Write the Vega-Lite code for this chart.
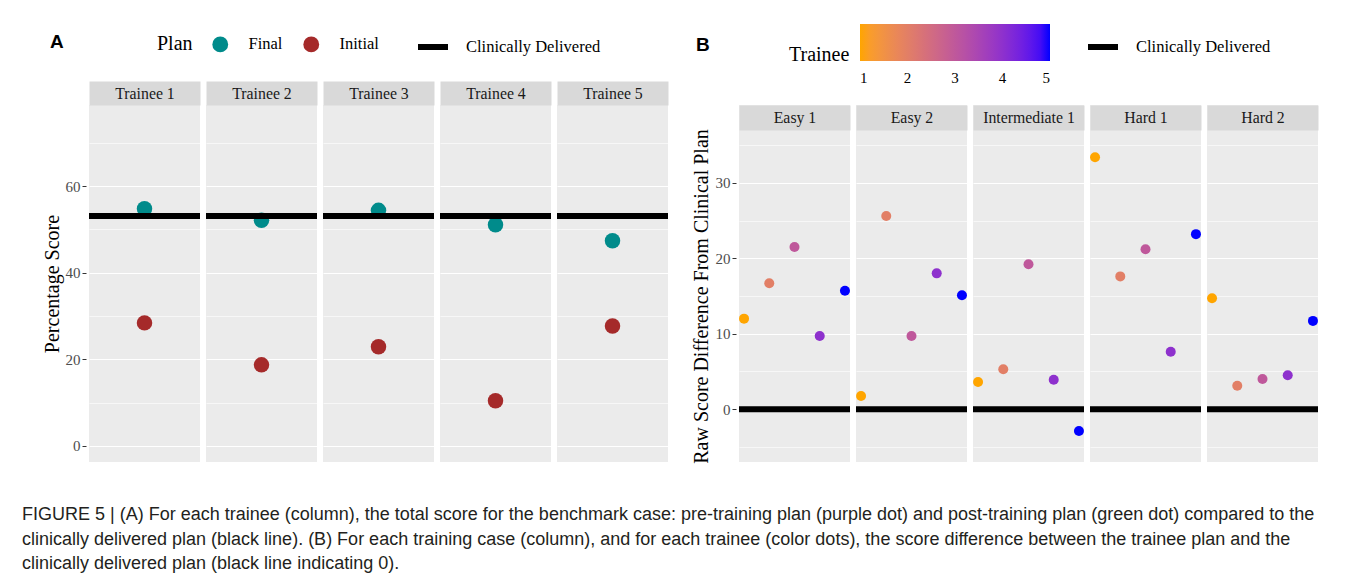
{
  "$schema": "https://vega.github.io/schema/vega-lite/v6.json",
  "background": "white",
  "padding": {"left": 22, "top": 24, "right": 10, "bottom": 5},
  "config": {
    "view": {"fill": "#EBEBEB", "stroke": null},
    "font": "Liberation Serif"
  },
  "datasets": {
    "planScores": [
      {"Trainee": "Trainee 1", "Plan": "Final", "Score": 54.8, "Clinical": 53.1},
      {"Trainee": "Trainee 1", "Plan": "Initial", "Score": 28.4, "Clinical": 53.1},
      {"Trainee": "Trainee 2", "Plan": "Final", "Score": 52.1, "Clinical": 53.1},
      {"Trainee": "Trainee 2", "Plan": "Initial", "Score": 18.7, "Clinical": 53.1},
      {"Trainee": "Trainee 3", "Plan": "Final", "Score": 54.4, "Clinical": 53.1},
      {"Trainee": "Trainee 3", "Plan": "Initial", "Score": 22.9, "Clinical": 53.1},
      {"Trainee": "Trainee 4", "Plan": "Final", "Score": 51.1, "Clinical": 53.1},
      {"Trainee": "Trainee 4", "Plan": "Initial", "Score": 10.4, "Clinical": 53.1},
      {"Trainee": "Trainee 5", "Plan": "Final", "Score": 47.4, "Clinical": 53.1},
      {"Trainee": "Trainee 5", "Plan": "Initial", "Score": 27.7, "Clinical": 53.1}
    ],
    "caseDiffs": [
      {"Case": "Easy 1", "Trainee": 1, "Diff": 12.0, "Clinical": 0},
      {"Case": "Easy 1", "Trainee": 2, "Diff": 16.7, "Clinical": 0},
      {"Case": "Easy 1", "Trainee": 3, "Diff": 21.5, "Clinical": 0},
      {"Case": "Easy 1", "Trainee": 4, "Diff": 9.7, "Clinical": 0},
      {"Case": "Easy 1", "Trainee": 5, "Diff": 15.7, "Clinical": 0},
      {"Case": "Easy 2", "Trainee": 1, "Diff": 1.75, "Clinical": 0},
      {"Case": "Easy 2", "Trainee": 2, "Diff": 25.6, "Clinical": 0},
      {"Case": "Easy 2", "Trainee": 3, "Diff": 9.7, "Clinical": 0},
      {"Case": "Easy 2", "Trainee": 4, "Diff": 18.0, "Clinical": 0},
      {"Case": "Easy 2", "Trainee": 5, "Diff": 15.1, "Clinical": 0},
      {"Case": "Intermediate 1", "Trainee": 1, "Diff": 3.6, "Clinical": 0},
      {"Case": "Intermediate 1", "Trainee": 2, "Diff": 5.3, "Clinical": 0},
      {"Case": "Intermediate 1", "Trainee": 3, "Diff": 19.2, "Clinical": 0},
      {"Case": "Intermediate 1", "Trainee": 4, "Diff": 3.9, "Clinical": 0},
      {"Case": "Intermediate 1", "Trainee": 5, "Diff": -2.9, "Clinical": 0},
      {"Case": "Hard 1", "Trainee": 1, "Diff": 33.4, "Clinical": 0},
      {"Case": "Hard 1", "Trainee": 2, "Diff": 17.6, "Clinical": 0},
      {"Case": "Hard 1", "Trainee": 3, "Diff": 21.2, "Clinical": 0},
      {"Case": "Hard 1", "Trainee": 4, "Diff": 7.6, "Clinical": 0},
      {"Case": "Hard 1", "Trainee": 5, "Diff": 23.2, "Clinical": 0},
      {"Case": "Hard 2", "Trainee": 1, "Diff": 14.7, "Clinical": 0},
      {"Case": "Hard 2", "Trainee": 2, "Diff": 3.1, "Clinical": 0},
      {"Case": "Hard 2", "Trainee": 3, "Diff": 4.0, "Clinical": 0},
      {"Case": "Hard 2", "Trainee": 4, "Diff": 4.5, "Clinical": 0},
      {"Case": "Hard 2", "Trainee": 5, "Diff": 11.7, "Clinical": 0}
    ]
  },
  "title": {
    "text": [
      "FIGURE 5 | (A) For each trainee (column), the total score for the benchmark case: pre-training plan (purple dot) and post-training plan (green dot) compared to the",
      "clinically delivered plan (black line). (B) For each training case (column), and for each trainee (color dots), the score difference between the trainee plan and the",
      "clinically delivered plan (black line indicating 0)."
    ],
    "orient": "bottom",
    "anchor": "start",
    "font": "Liberation Sans",
    "fontSize": 18,
    "fontWeight": "normal",
    "color": "#231F20",
    "lineHeight": 24.5,
    "offset": 43,
    "dx": -20
  },
  "resolve": {"scale": {"color": "independent", "strokeDash": "independent"}, "legend": {"color": "independent", "strokeDash": "independent"}},
  "columns": 2,
  "align": "none",
  "spacing": 20,
  "concat": [
    {
      "title": {"text": "A", "anchor": "start", "font": "Liberation Sans", "fontSize": 19, "fontWeight": "bold", "color": "black", "offset": -28, "dx": 8},
      "data": {"name": "planScores"},
      "facet": {
        "column": {"field": "Trainee", "type": "nominal", "title": null, "header": {"labels": false}}
      },
      "spacing": 0,
      "resolve": {"scale": {"x": "independent"}},
      "spec": {
        "width": 111,
        "height": 357,
        "resolve": {"scale": {"x": "independent"}, "axis": {"x": "independent", "y": "independent"}},
        "layer": [
          {
            "mark": {"type": "text", "opacity": 0},
            "encoding": {
              "x": {
                "field": "Trainee", "type": "nominal",
                "axis": {"orient": "top", "title": null, "ticks": false, "tickSize": 0, "grid": false, "domain": false, "offset": 12, "zindex": 3, "labelFont": "Liberation Serif", "labelFontSize": 15.8, "labelColor": "#1A1A1A", "labelPadding": 0, "labelBaseline": "middle", "labelAngle": 0}
              },
              "text": {"value": ""}
            }
          },
          {
            "mark": {"type": "circle", "size": 240, "opacity": 1},
            "encoding": {
              "x": {
                "field": "Trainee", "type": "nominal",
                "axis": {"orient": "top", "title": null, "labels": false, "ticks": false, "tickSize": 0, "grid": false, "domain": true, "domainColor": "#D9D9D9", "domainWidth": 24, "offset": 12, "zindex": 1}
              },
              "y": {
                "field": "Score", "type": "quantitative",
                "scale": {"domain": [-3.75, 78.75], "nice": false, "zero": false},
                "axis": {"title": "Percentage Score", "values": [0, 20, 40, 60], "grid": true, "gridColor": "white", "gridWidth": 1.2, "domain": false, "tickColor": "#333333", "tickSize": 4, "tickWidth": 1, "labelColor": "#4D4D4D", "labelFont": "Liberation Serif", "labelFontSize": 15, "labelPadding": 2, "titleFont": "Liberation Serif", "titleFontSize": 20, "titleFontWeight": "normal", "titleColor": "black", "titlePadding": 3}
              },
              "color": {
                "field": "Plan", "type": "nominal",
                "scale": {"domain": ["Final", "Initial"], "range": ["#008B8B", "#A52A2A"]},
                "legend": {"orient": "none", "legendX": 68, "legendY": -69, "direction": "horizontal", "title": "Plan", "titleOrient": "left", "titleFont": "Liberation Serif", "titleFontSize": 20, "titleFontWeight": "normal", "titleColor": "black", "titlePadding": 19, "symbolType": "circle", "symbolSize": 250, "symbolStrokeWidth": 0, "labelFont": "Liberation Serif", "labelFontSize": 16.5, "labelColor": "black", "labelOffset": 20, "columnPadding": 20}
              }
            }
          },
          {
            "mark": {"type": "rule", "color": "black", "strokeWidth": 6},
            "encoding": {
              "y": {
                "field": "Clinical", "type": "quantitative", "aggregate": "mean",
                "scale": {"domain": [-3.75, 78.75], "nice": false, "zero": false},
                "axis": {"orient": "right", "title": null, "values": [10, 30, 50, 70], "grid": true, "gridColor": "white", "gridWidth": 0.6, "labels": false, "ticks": false, "domain": false}
              },
              "strokeDash": {
                "datum": "Clinically Delivered", "type": "nominal",
                "scale": {"range": [[1, 0]]},
                "legend": {"orient": "none", "legendX": 321, "legendY": -81, "padding": 5, "title": null, "symbolType": "stroke", "symbolStrokeColor": "black", "symbolStrokeWidth": 6, "symbolSize": 900, "labelFont": "Liberation Serif", "labelFontSize": 16.5, "labelColor": "black", "labelOffset": 15}
              }
            }
          }
        ]
      }
    },
    {
      "title": {"text": "B", "anchor": "start", "font": "Liberation Sans", "fontSize": 19, "fontWeight": "bold", "color": "black", "offset": -31, "dx": 5},
      "data": {"name": "caseDiffs"},
      "facet": {
        "column": {"field": "Case", "type": "nominal", "title": null, "sort": ["Easy 1", "Easy 2", "Intermediate 1", "Hard 1", "Hard 2"], "header": {"labels": false}}
      },
      "spacing": 0,
      "resolve": {"scale": {"x": "independent"}},
      "spec": {
        "width": 111,
        "height": 357,
        "resolve": {"scale": {"x": "independent"}, "axis": {"x": "independent", "y": "independent"}},
        "layer": [
          {
            "mark": {"type": "text", "opacity": 0},
            "encoding": {
              "x": {
                "field": "Case", "type": "nominal",
                "axis": {"orient": "top", "title": null, "ticks": false, "tickSize": 0, "grid": false, "domain": false, "offset": -12.5, "zindex": 3, "labelFont": "Liberation Serif", "labelFontSize": 15.8, "labelColor": "#1A1A1A", "labelPadding": 0, "labelBaseline": "middle", "labelAngle": 0}
              },
              "text": {"value": ""}
            }
          },
          {
            "mark": {"type": "circle", "size": 100, "opacity": 1},
            "encoding": {
              "x": {
                "field": "Trainee", "type": "quantitative",
                "scale": {"domain": [0.8, 5.2], "nice": false, "zero": false},
                "axis": {"orient": "top", "title": null, "labels": false, "ticks": false, "tickSize": 0, "grid": false, "domain": true, "domainColor": "#D9D9D9", "domainWidth": 25, "offset": -12.5, "zindex": 1}
              },
              "y": {
                "field": "Diff", "type": "quantitative",
                "scale": {"domain": [-7, 40.313], "nice": false, "zero": false},
                "axis": {"title": "Raw Score Difference From Clinical Plan", "titleY": 191, "values": [0, 10, 20, 30], "grid": true, "gridColor": "white", "gridWidth": 1.2, "domain": false, "tickColor": "#333333", "tickSize": 4, "tickWidth": 1, "labelColor": "#4D4D4D", "labelFont": "Liberation Serif", "labelFontSize": 15, "labelPadding": 2, "titleFont": "Liberation Serif", "titleFontSize": 20, "titleFontWeight": "normal", "titleColor": "black", "titlePadding": 4}
              },
              "color": {
                "field": "Trainee", "type": "quantitative",
                "scale": {"domain": [1, 5], "range": ["#FFA500", "#0000FF"], "interpolate": "lab"},
                "legend": {"orient": "none", "legendX": 50, "legendY": -81, "direction": "horizontal", "title": "Trainee", "titleOrient": "left", "titleAnchor": "end", "titleBaseline": "alphabetic", "titleFont": "Liberation Serif", "titleFontSize": 20, "titleFontWeight": "normal", "titleColor": "black", "titlePadding": 10, "gradientLength": 190, "gradientThickness": 37, "gradientStrokeWidth": 0, "values": [1, 2, 3, 4, 5], "labelFont": "Liberation Serif", "labelFontSize": 15, "labelColor": "black", "labelOffset": 10}
              }
            }
          },
          {
            "mark": {"type": "rule", "color": "black", "strokeWidth": 6},
            "encoding": {
              "y": {
                "field": "Clinical", "type": "quantitative", "aggregate": "mean",
                "scale": {"domain": [-7, 40.313], "nice": false, "zero": false},
                "axis": {"orient": "right", "title": null, "values": [-5, 5, 15, 25, 35], "grid": true, "gridColor": "white", "gridWidth": 0.6, "labels": false, "ticks": false, "domain": false}
              },
              "strokeDash": {
                "datum": "Clinically Delivered", "type": "nominal",
                "scale": {"range": [[1, 0]]},
                "legend": {"orient": "none", "legendX": 346, "legendY": -76, "title": null, "symbolType": "stroke", "symbolStrokeColor": "black", "symbolStrokeWidth": 6, "symbolSize": 900, "labelFont": "Liberation Serif", "labelFontSize": 16.5, "labelColor": "black", "labelOffset": 15}
              }
            }
          }
        ]
      }
    }
  ]
}
